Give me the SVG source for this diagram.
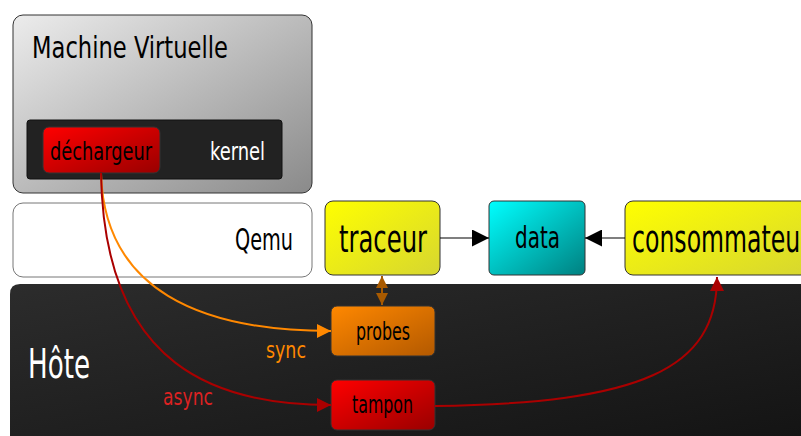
<svg xmlns="http://www.w3.org/2000/svg" width="801" height="436" viewBox="0 0 801 436">
<defs>
<linearGradient id="gVM" x1="0" y1="0" x2="1" y2="1"><stop offset="0" stop-color="#ececec"/><stop offset="1" stop-color="#8a8a8a"/></linearGradient>
<linearGradient id="gHost" x1="0" y1="0" x2="1" y2="1"><stop offset="0" stop-color="#2c2c2c"/><stop offset="1" stop-color="#141414"/></linearGradient>
<linearGradient id="gRed" x1="0" y1="0" x2="1" y2="1"><stop offset="0" stop-color="#ff0000"/><stop offset="1" stop-color="#990000"/></linearGradient>
<linearGradient id="gYel" x1="0" y1="0" x2="1" y2="1"><stop offset="0" stop-color="#ffff00"/><stop offset="1" stop-color="#d6d630"/></linearGradient>
<linearGradient id="gCyan" x1="0" y1="0" x2="1" y2="1"><stop offset="0" stop-color="#00ffff"/><stop offset="1" stop-color="#008080"/></linearGradient>
<linearGradient id="gOr" x1="0" y1="0" x2="1" y2="1"><stop offset="0" stop-color="#ff8800"/><stop offset="1" stop-color="#b35900"/></linearGradient>
<marker id="aBlack" viewBox="0 0 10 10" refX="10" refY="5" markerWidth="25" markerHeight="17" markerUnits="userSpaceOnUse" orient="auto"><path d="M0 0 L10 5 L0 10 Z" fill="#000"/></marker>
<marker id="aOr" viewBox="0 0 10 10" refX="10" refY="5" markerWidth="18" markerHeight="14" markerUnits="userSpaceOnUse" orient="auto"><path d="M0 0 L10 5 L0 10 Z" fill="#ff8800"/></marker>
<marker id="aRed" viewBox="0 0 10 10" refX="10" refY="5" markerWidth="18" markerHeight="14" markerUnits="userSpaceOnUse" orient="auto"><path d="M0 0 L10 5 L0 10 Z" fill="#aa0000"/></marker>
<marker id="aBr" viewBox="0 0 10 10" refX="10" refY="5" markerWidth="12" markerHeight="14" markerUnits="userSpaceOnUse" orient="auto-start-reverse"><path d="M0 0 L10 5 L0 10 Z" fill="#a85a00"/></marker>
</defs>
<style>
text{font-family:"DejaVu Sans Condensed","DejaVu Sans",sans-serif;font-stretch:condensed}
.box{stroke:#333;stroke-width:1}
</style>
<rect width="801" height="436" fill="#fff"/>
<g id="hote">
<path d="M20 284 H801 V436 H10 V294 Q10 284 20 284 Z" fill="url(#gHost)"/>
<text x="28" y="378" font-size="40" fill="#fff" textLength="62" lengthAdjust="spacingAndGlyphs">Hôte</text>
</g>
<g id="vm">
<rect x="13" y="15" width="299" height="178" rx="10" fill="url(#gVM)" stroke="#333"/>
<text x="32" y="58" font-size="31" fill="#000" textLength="196" lengthAdjust="spacingAndGlyphs">Machine Virtuelle</text>
</g>
<g id="kernel">
<rect x="27" y="120" width="255" height="59" rx="3" fill="#222" stroke="#111"/>
<text x="210" y="160" font-size="25" fill="#fff" textLength="55" lengthAdjust="spacingAndGlyphs">kernel</text>
</g>
<g id="dechargeur">
<rect x="43" y="127" width="117" height="46" rx="6" fill="url(#gRed)" class="box"/>
<text x="50" y="160" font-size="25" fill="#000" textLength="102" lengthAdjust="spacingAndGlyphs">déchargeur</text>
</g>
<g id="qemu">
<rect x="13" y="203" width="299" height="74" rx="10" fill="#fff" stroke="#777"/>
<text x="235" y="250" font-size="30" fill="#000" textLength="58" lengthAdjust="spacingAndGlyphs">Qemu</text>
</g>
<g id="traceur">
<rect x="325" y="201" width="115" height="74" rx="8" fill="url(#gYel)" class="box"/>
<text x="339" y="252" font-size="38" fill="#000" textLength="88" lengthAdjust="spacingAndGlyphs">traceur</text>
</g>
<g id="data">
<rect x="489" y="201" width="96" height="74" rx="5" fill="url(#gCyan)" class="box"/>
<text x="515" y="248" font-size="30" fill="#000" textLength="45" lengthAdjust="spacingAndGlyphs">data</text>
</g>
<g id="consommateur">
<rect x="625" y="201" width="190" height="74" rx="8" fill="url(#gYel)" class="box"/>
<text x="632" y="252" font-size="38" fill="#000" textLength="178" lengthAdjust="spacingAndGlyphs">consommateur</text>
</g>
<g id="probes">
<rect x="331" y="306" width="104" height="50" rx="6" fill="url(#gOr)" class="box"/>
<text x="356" y="340" font-size="25" fill="#000" textLength="54" lengthAdjust="spacingAndGlyphs">probes</text>
</g>
<g id="tampon">
<rect x="331" y="380" width="104" height="50" rx="6" fill="url(#gRed)" class="box"/>
<text x="352" y="413" font-size="25" fill="#000" textLength="61" lengthAdjust="spacingAndGlyphs">tampon</text>
</g>
<g id="connectors" fill="none">
<line x1="440" y1="238" x2="489" y2="238" stroke="#000" stroke-width="1.2" marker-end="url(#aBlack)"/>
<line x1="625" y1="238" x2="585" y2="238" stroke="#000" stroke-width="1.2" marker-end="url(#aBlack)"/>
<line x1="382" y1="276" x2="382" y2="305" stroke="#a85a00" stroke-width="2" marker-start="url(#aBr)" marker-end="url(#aBr)"/>
<path d="M101 173 C104 290 200 331 331 331" stroke="#ff8800" stroke-width="2" marker-end="url(#aOr)"/>
<path d="M101 173 C104 370 220 405 331 405" stroke="#aa0000" stroke-width="2" marker-end="url(#aRed)"/>
<path d="M435 406 C640 403 717 370 717 277" stroke="#aa0000" stroke-width="2" marker-end="url(#aRed)"/>
<text x="266" y="358" font-size="23" fill="#ff8800" stroke="none" textLength="40" lengthAdjust="spacingAndGlyphs">sync</text>
<text x="163" y="405" font-size="23" fill="#dd2222" stroke="none" textLength="50" lengthAdjust="spacingAndGlyphs">async</text>
</g>
</svg>
